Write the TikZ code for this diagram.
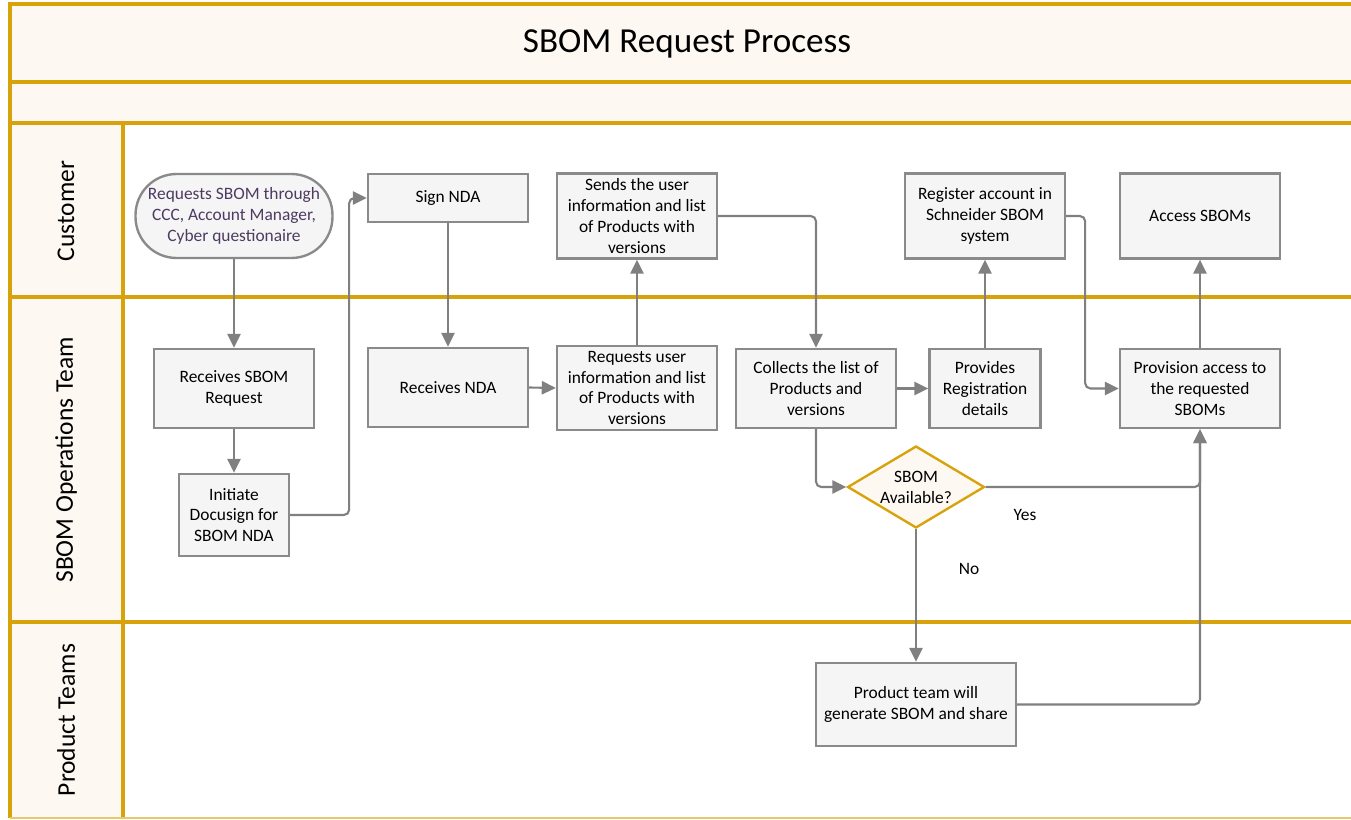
\documentclass[tikz,border=0pt]{standalone}
\usepackage{fontspec}
\setmainfont{Carlito}
\usetikzlibrary{arrows.meta,shapes.geometric,positioning}
\definecolor{lanegold}{RGB}{216,163,10}
\definecolor{headfill}{RGB}{254,248,242}
\definecolor{boxfill}{RGB}{245,245,245}
\definecolor{boxgray}{RGB}{138,138,138}
\definecolor{flowgray}{RGB}{128,128,128}
\definecolor{termtext}{RGB}{78,58,98}
\tikzset{>={Triangle[length=8pt,width=7.5pt]}}
\tikzset{
  proc/.style={draw=boxgray, fill=boxfill, line width=1.35pt, align=center,
    inner sep=2pt, font=\fontsize{9.9}{11.9}\selectfont},
  term/.style={proc, rounded corners=0.82cm, text=termtext},
  decide/.style={diamond, draw=lanegold, fill=headfill, line width=1.35pt, align=center,
    inner sep=0pt, aspect=1.67, minimum width=2.74cm, minimum height=1.64cm,
    font=\fontsize{9.9}{11.9}\selectfont},
  flow/.style={->, draw=flowgray, line width=1.2pt, rounded corners=3pt},
  lane/.style={rotate=90, font=\fontsize{14.5}{17}\selectfont},
  tag/.style={font=\fontsize{9.9}{11.9}\selectfont}
}
\begin{document}
\begin{tikzpicture}[x=0.02cm,y=-0.02cm]
    \clip (0,0) rectangle (1351,820);
    % bands and lanes
    \fill[headfill] (10,4) rectangle (1360,123);
    \fill[headfill] (10,123) rectangle (123,818);
    \draw[lanegold, line width=2pt] (10,818) -- (10,4) -- (1360,4);
    \foreach \Y in {82,123,297,622}
    {\draw[lanegold, line width=2pt] (10,\Y) -- (1360,\Y);}
    \draw[lanegold, line width=2pt] (123,123) -- (123,818);
    \draw[lanegold!60, line width=1pt] (10,818) -- (1360,818);
    \node[font=\fontsize{20}{24}\selectfont] (title) at (687,44) {SBOM Request Process};
    \node[lane] (lanecust) at (66,211) {Customer};
    \node[lane] (laneops) at (66,460) {SBOM Operations Team};
    \node[lane] (laneprod) at (66,720) {Product Teams};
    % customer lane
    \node[term, minimum width=3.94cm, minimum height=1.68cm] (custreq) at (234,216)
      {Requests SBOM through\\CCC, Account Manager,\\Cyber questionaire};
    \node[proc, minimum width=3.2cm, minimum height=0.96cm] (signnda) at (448,198) {Sign NDA};
    \node[proc, minimum width=3.2cm, minimum height=1.7cm] (sendinfo) at (637,216)
      {Sends the user\\information and list\\of Products with\\versions};
    \node[proc, minimum width=3.2cm, minimum height=1.7cm] (register) at (985,216)
      {Register account in\\Schneider SBOM\\system};
    \node[proc, minimum width=3.2cm, minimum height=1.7cm] (access) at (1200,216) {Access SBOMs};
    % operations lane
    \node[proc, minimum width=3.2cm, minimum height=1.58cm] (recvreq) at (234,388.5)
      {Receives SBOM\\Request};
    \node[proc, minimum width=2.2cm, minimum height=1.64cm] (docusign) at (234,515)
      {Initiate\\Docusign for\\SBOM NDA};
    \node[proc, minimum width=3.2cm, minimum height=1.58cm] (recvnda) at (448,387.5) {Receives NDA};
    \node[proc, minimum width=3.2cm, minimum height=1.68cm] (requser) at (637,388)
      {Requests user\\information and list\\of Products with\\versions};
    \node[proc, minimum width=3.2cm, minimum height=1.58cm] (collect) at (816,388.5)
      {Collects the list of\\Products and\\versions};
    \node[proc, minimum width=2.22cm, minimum height=1.58cm] (regdetail) at (985,388.5)
      {Provides\\Registration\\details};
    \node[proc, minimum width=3.2cm, minimum height=1.58cm] (provision) at (1200,388.5)
      {Provision access to\\the requested\\SBOMs};
    \node[decide] (avail) at (916,487) {SBOM\\Available?};
    % product lane
    \node[proc, minimum width=4cm, minimum height=1.66cm] (prodteam) at (916,704.5)
      {Product team will\\generate SBOM and share};
    \node[tag] (yes) at (1025,515) {Yes};
    \node[tag] (no) at (969,569) {No};
    % connectors
    \draw[flow] (custreq.south) -- (recvreq.north);
    \draw[flow] (recvreq.south) -- (docusign.north);
    \draw[flow] (docusign.east) -- ++(59,0) |- (signnda.west);
    \draw[flow] (signnda.south) -- (recvnda.north);
    \draw[flow] (recvnda.east) -- (requser.west);
    \draw[flow] (requser.north) -- (sendinfo.south);
    \draw[flow] (sendinfo.east) -| (collect.north);
    \draw[flow] (collect.east) -- (regdetail.west);
    \draw[flow] (regdetail.north) -- (register.south);
    \draw[flow] (register.east) -- ++(19,0) |- (provision.west);
    \draw[flow] (collect.south) |- (avail.west);
    \draw[flow] (avail.east) -| (provision.south);
    \draw[flow] (avail.south) -- (prodteam.north);
    \draw[flow] (prodteam.east) -| (provision.south);
    \draw[flow] (provision.north) -- (access.south);
\end{tikzpicture}
\end{document}
